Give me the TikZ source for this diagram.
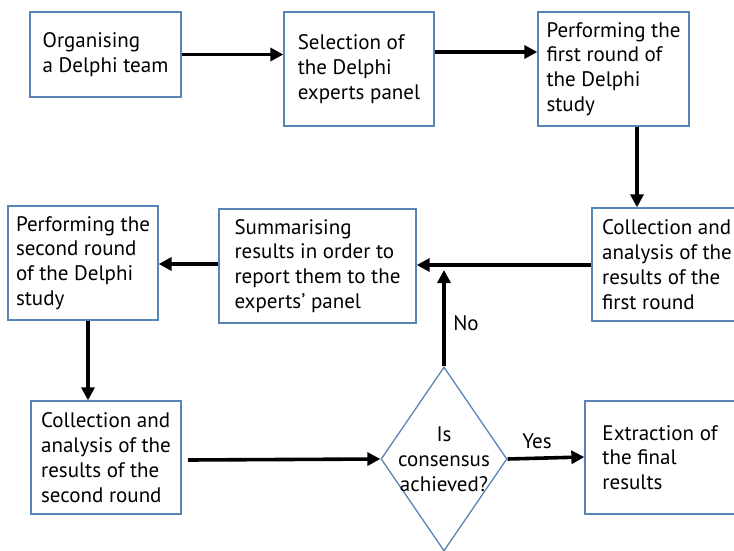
\documentclass[tikz,border=0pt]{standalone}
\usepackage{fontspec}
\setmainfont{PT Sans}
\usetikzlibrary{shapes.geometric,arrows.meta}
\definecolor{boxblue}{RGB}{88,132,182}
\newcommand{\fs}{\fontsize{21}{24.8}\selectfont}

\tikzset{
  stage/.style={draw=boxblue,line width=1.3pt,inner sep=0pt,align=left,font=\fs},
  flow/.style={line width=3.6pt,-{Triangle[length=13pt,width=13pt]}},
  tag/.style={font=\fs,inner sep=0pt}
}

\begin{document}
\begin{tikzpicture}[x=1pt,y=-1pt]
                    \useasboundingbox (0,0) rectangle (734,551);
                    % first row
                    \node[stage,minimum width=151,minimum height=85] (organise) at (105.5,54.5) {Organising\\a Delphi team};
                    \node[stage,minimum width=150,minimum height=114] (select) at (359,69) {Selection of\\the Delphi\\experts panel};
                    \node[stage,minimum width=151,minimum height=114] (round1) at (613.5,69) {Performing the\\first round of\\the Delphi\\study};
                    % second row
                    \node[stage,minimum width=150,minimum height=113] (collect1) at (667,264.5) {Collection and\\analysis of the\\results of the\\first round};
                    \node[stage,minimum width=197,minimum height=114] (summarise) at (317.5,266) {Summarising\\results in order to\\report them to the\\experts' panel};
                    \node[stage,minimum width=150,minimum height=114] (round2) at (83,263) {Performing the\\second round\\of the Delphi\\study};
                    % third row
                    \node[stage,minimum width=150,minimum height=113] (collect2) at (106,457.5) {Collection and\\analysis of the\\results of the\\second round};
                    \node[stage,shape=diamond,minimum width=126,minimum height=184,
                      label={[tag,align=center]center:Is\\consensus\\achieved?}] (consensus) at (444,459) {};
                    \node[stage,minimum width=150,minimum height=113] (extract) at (660,457.5) {Extraction of\\the final\\results};
                    \coordinate (c2out) at (188,460);
                    \coordinate (noend) at (444,270);
                    \draw[flow] (organise.east) -- (select.west |- organise.east);
                    \draw[flow] (select.east |- 0,52) -- (round1.west |- 0,52);
                    \draw[flow] (round1.south -| 637,0) -- (collect1.north -| 637,0);
                    \draw[flow] (collect1.west |- 0,265) -- (summarise.east |- 0,265);
                    \draw[flow] (summarise.west |- 0,264) -- (round2.east |- 0,264);
                    \draw[flow] (round2.south -| 88,0) -- (collect2.north -| 88,0);
                    \draw[flow] (c2out) -- (consensus.west);
                    \draw[flow] (consensus.north) -- (noend);
                    \draw[flow] (consensus.east) -- (extract.west |- 0,457);
                    \node[tag] (no) at (466,323) {No};
                    \node[tag] (yes) at (537,441) {Yes};
\end{tikzpicture}
\end{document}
